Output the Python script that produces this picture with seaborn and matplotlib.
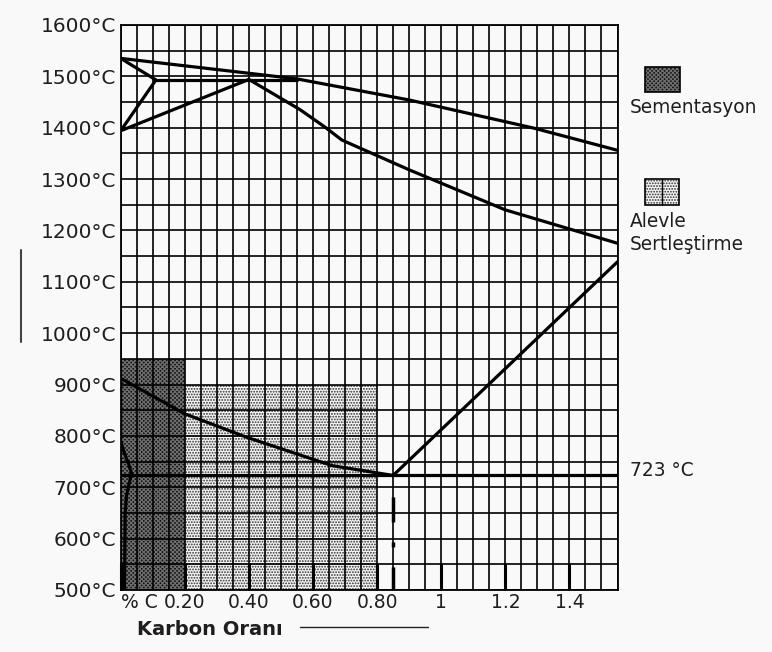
import numpy as np
import pandas as pd
import matplotlib
matplotlib.use("Agg")
import matplotlib.pyplot as plt
import seaborn as sns
from matplotlib.patches import Rectangle
from matplotlib.lines import Line2D

sns.set_theme(style="white")
plt.rcParams["font.family"] = ["DejaVu Sans"]
plt.rcParams["lines.scale_dashes"] = False
plt.rcParams["hatch.linewidth"] = 0.9

# ---- data (carbon %, temperature °C) ----
liq_x = [0, 0.40, 0.55, 0.90, 1.29, 1.55]
liq_T = [1535, 1506, 1495, 1454, 1399, 1356]
sol_x = [0.40, 0.56, 0.64, 0.69, 0.90, 1.20, 1.55]
sol_T = [1494, 1435, 1400, 1376, 1318, 1240, 1175]
delta_x = [0, 0.11, 0, 0.40]
delta_T = [1535, 1493, 1394, 1494]
peri_x = [0.11, 0.55]
peri_T = [1493, 1493]
a3_x = [0, 0.20, 0.39, 0.66, 0.79, 0.85]
a3_T = [912, 843, 798, 742, 729, 723]
acm_x = [0.85, 1.55]
acm_T = [723, 1139]
alpha_x = [0, 0, 0.010, 0.024, 0.034, 0.024, 0.018, 0.014, 0.012]
alpha_T = [912, 790, 769, 747, 727, 701, 682, 650, 500]
eut_x = 0.85
eut_T = 723
x_range = [0, 1.55]
t_range = [500, 1600]
cem_x = [0, 0.20]
cem_top = 950
flame_x = [0.20, 0.80]
flame_top = 900
ytick_vals = list(range(500, 1601, 100))
ytick_labels = [f"{v}°C" for v in ytick_vals]
xtick_vals = [0, 0.2, 0.4, 0.6, 0.8, 1.0, 1.2, 1.4]
xtick_labels = ["% C", "0.20", "0.40", "0.60", "0.80", "1", "1.2", "1.4"]
legend_labels = ["Sementasyon", "Alevle\nSertleştirme"]

BG = "#f9f9f9"
TXT = "#1e1e1e"
CEM_FACE, CEM_HATCH, CEM_EDGE = "#101010", "x" * 8, "#6e6e6e"
FL_FACE, FL_HATCH, FL_EDGE = "#f6f6f6", "." * 6, "#303030"

fig = plt.figure(figsize=(7.72, 6.52), dpi=100, facecolor=BG)
ax = fig.add_axes([0.1563, 0.0951, 0.6436, 0.8666])
ax.set_facecolor(BG)

# shaded process regions
ax.fill_between(cem_x, t_range[0], cem_top, facecolor=CEM_FACE, hatch=CEM_HATCH,
                edgecolor=CEM_EDGE, linewidth=0, zorder=1)
ax.fill_between(flame_x, t_range[0], flame_top, facecolor=FL_FACE, hatch=FL_HATCH,
                edgecolor=FL_EDGE, linewidth=0, zorder=1)

lw = 2.3
for xs, ts in [(liq_x, liq_T), (sol_x, sol_T), (delta_x, delta_T), (peri_x, peri_T),
               (a3_x, a3_T), (acm_x, acm_T), (alpha_x, alpha_T),
               (x_range, [eut_T, eut_T])]:
    sns.lineplot(x=xs, y=ts, sort=False, estimator=None, color="black",
                 linewidth=lw, ax=ax, zorder=3)

# dash-dot vertical at eutectoid composition
ax.plot([eut_x, eut_x], [t_range[0], eut_T], color="black", linewidth=2.5,
        linestyle=(0, (16.6, 14.4, 3.6, 14.4, 18, 30)), zorder=3)

ax.set_xlim(*x_range)
ax.set_ylim(*t_range)
ax.set_xticks(xtick_vals)
ax.set_xticklabels(xtick_labels)
ax.set_xticks(np.arange(0, 1.5501, 0.05), minor=True)
ax.set_yticks(ytick_vals)
ax.set_yticklabels(ytick_labels)
ax.set_yticks(np.arange(500, 1601, 50), minor=True)
ax.set_axisbelow(False)
ax.grid(which="both", color="black", linewidth=1.2)
ax.set_xlabel("")
ax.set_ylabel("")

ax.tick_params(axis="x", which="major", bottom=True, top=False, direction="in",
               length=19.5, width=2.2, color="black", pad=2, labelsize=13.5,
               labelcolor=TXT)
ax.tick_params(axis="x", which="minor", length=0)
ax.tick_params(axis="y", which="both", left=False, length=0, pad=3.4,
               labelsize=14.5, labelcolor=TXT)
ax.get_xticklabels()[0].set_horizontalalignment("left")
for s in ax.spines.values():
    s.set_color("black")
    s.set_linewidth(1.3)
    s.set_zorder(4)

W, H = 772, 652
def fx(px):
    return px / W
def fy(py):
    return 1 - py / H

# right-hand key
fig.add_artist(Rectangle((fx(645), fy(91.7)), 35 / W, 25 / H, facecolor=CEM_FACE,
                         hatch=CEM_HATCH, edgecolor=CEM_EDGE, linewidth=0,
                         transform=fig.transFigure))
fig.add_artist(Rectangle((fx(645), fy(91.7)), 35 / W, 25 / H, facecolor="none",
                         edgecolor="black", linewidth=1.2, transform=fig.transFigure))
fig.text(fx(630), fy(113.3), legend_labels[0], fontsize=13.4, color=TXT, va="baseline")

fig.add_artist(Rectangle((fx(645), fy(205)), 34 / W, 26 / H, facecolor=FL_FACE,
                         hatch=FL_HATCH, edgecolor=FL_EDGE, linewidth=0,
                         transform=fig.transFigure))
fig.add_artist(Rectangle((fx(645), fy(205)), 34 / W, 26 / H, facecolor="none",
                         edgecolor="black", linewidth=1.2, transform=fig.transFigure))
fig.add_artist(Line2D([fx(662), fx(662)], [fy(205), fy(179)], color="black",
                      linewidth=1.0, transform=fig.transFigure))
l1, l2 = legend_labels[1].split("\n")
fig.text(fx(630), fy(227), l1, fontsize=13.4, color=TXT, va="baseline")
fig.text(fx(630), fy(250), l2, fontsize=13.4, color=TXT, va="baseline")

fig.text(fx(630), fy(476), f"{eut_T} °C", fontsize=13.4, color=TXT, va="baseline")

# axis caption and arrows
fig.text(fx(137), fy(635), "Karbon Oranı", fontsize=14, fontweight="bold",
         color=TXT, va="baseline")
fig.add_artist(Line2D([fx(300), fx(428)], [fy(626.7), fy(626.7)], color="#222222",
                      linewidth=1.0, transform=fig.transFigure))
fig.add_artist(Line2D([fx(20.7), fx(20.7)], [fy(250), fy(342)], color="#444444",
                      linewidth=1.5, transform=fig.transFigure))

fig.savefig("out.png", dpi=100, facecolor=BG)
